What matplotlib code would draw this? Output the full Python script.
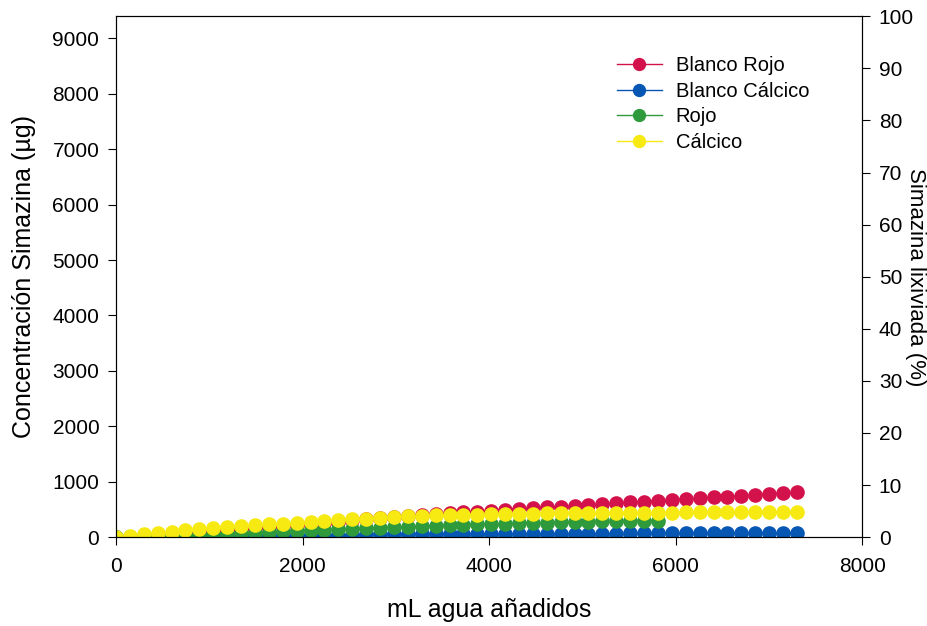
import matplotlib
matplotlib.use("Agg")
import matplotlib.pyplot as plt

plt.rcParams['font.family'] = ['Liberation Sans', 'DejaVu Sans']

# volumen acumulado de agua añadida (mL)
ml_agua = [0, 149, 298, 447, 596, 745, 894, 1043, 1192, 1341,
           1490, 1639, 1788, 1937, 2086, 2235, 2384, 2533, 2682, 2831,
           2980, 3129, 3278, 3427, 3576, 3725, 3874, 4023, 4172, 4321,
           4470, 4619, 4768, 4917, 5066, 5215, 5364, 5513, 5662, 5811,
           5960, 6109, 6258, 6407, 6556, 6705, 6854, 7003, 7152, 7301]

# simazina lixiviada acumulada (ug)
blanco_rojo = [0, 5, 15, 30, 45, 60, 80, 100, 120, 140,
               160, 180, 200, 220, 240, 260, 280, 300, 320, 340,
               360, 378, 396, 413, 430, 446, 462, 477, 492, 507,
               522, 537, 552, 567, 582, 597, 612, 627, 642, 657,
               672, 687, 702, 717, 732, 747, 762, 777, 792, 807]
blanco_calcico = [0, 2, 5, 8, 11, 14, 17, 20, 23, 26,
                  29, 32, 35, 38, 41, 43, 45, 47, 49, 51,
                  53, 54, 55, 56, 57, 58, 59, 60, 61, 62,
                  62, 63, 63, 64, 64, 65, 65, 66, 66, 67,
                  67, 68, 68, 69, 69, 70, 70, 71, 71, 72]
rojo = [0, 5, 12, 20, 28, 37, 46, 55, 64, 73,
        82, 92, 102, 112, 122, 132, 142, 152, 162, 172,
        182, 191, 200, 208, 216, 224, 231, 238, 245, 251,
        257, 263, 268, 273, 278, 283, 287, 291, 295, 299]
calcico = [0, 25, 50, 75, 100, 120, 140, 160, 180, 200,
           215, 230, 245, 260, 275, 290, 305, 320, 335, 350,
           362, 372, 382, 390, 397, 403, 408, 413, 418, 422,
           426, 429, 432, 434, 436, 438, 440, 441, 442, 443,
           444, 445, 446, 447, 448, 449, 450, 451, 452, 453]

series = [
    ("Blanco Rojo", blanco_rojo, "#D3124C"),
    ("Blanco Cálcico", blanco_calcico, "#0656B4"),
    ("Rojo", rojo, "#2F9A3C"),
    ("Cálcico", calcico, "#F6EA12"),
]

fig = plt.figure(figsize=(9.28, 6.26), dpi=100)
ax = fig.add_axes([0.125, 0.142, 0.804, 0.832])

for nombre, valores, color in series:
    ax.plot(ml_agua[:len(valores)], valores, '-', color=color, lw=1,
            marker='o', ms=9.5, mec=color, mfc=color, label=nombre)

ax.set_xlim(0, 8000)
ax.set_ylim(0, 9400)
ax.set_xticks([0, 2000, 4000, 6000, 8000])
ax.set_yticks(range(0, 9001, 1000))
ax.tick_params(direction='out', labelsize=15, length=6)
ax.tick_params(axis='y', pad=6)
ax.tick_params(axis='x', pad=8)
ax.set_xlabel("mL agua añadidos", fontsize=18, labelpad=16)
ax.set_ylabel("Concentración Simazina (µg)", fontsize=18, labelpad=12)

ax2 = ax.twinx()
ax2.set_ylim(0, 100)
ax2.set_yticks(range(0, 101, 10))
ax2.tick_params(direction='out', labelsize=15, length=6, pad=6)
ax2.set_ylabel("Simazina lixiviada (%)", fontsize=16, rotation=-90,
               ha='center', va='center')
ax2.yaxis.set_label_coords(1.071, 0.5)

leg = ax.legend(loc='upper left', bbox_to_anchor=(0.661, 0.939), frameon=False,
                fontsize=14.5, handlelength=2.2, handletextpad=0.7,
                labelspacing=0.33, markerscale=0.9, borderpad=0.4,
                borderaxespad=0)

fig.savefig("out.png", dpi=100)
